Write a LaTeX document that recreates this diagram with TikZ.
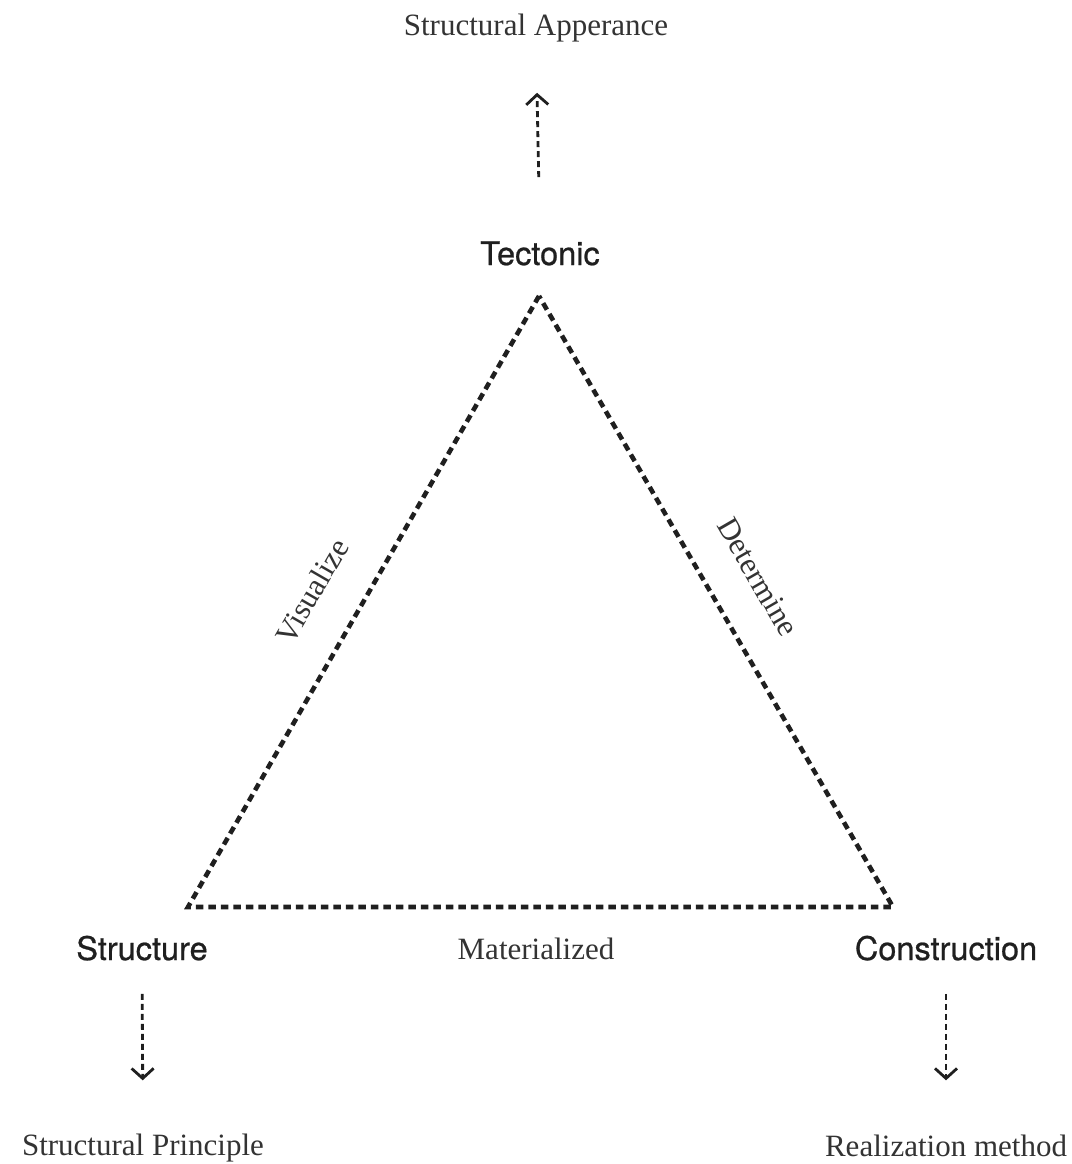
\documentclass[tikz,border=0pt]{standalone}
\usepackage{fontspec}
\setmainfont{Liberation Serif}
\newfontfamily\headfont[FakeBold=0.7]{TeX Gyre Heros}
\usetikzlibrary{arrows.meta}

\tikzset{
  corner/.style={font=\headfont\fontsize{32.5}{38}\selectfont, inner sep=0pt, anchor=base, text=black!88},
  note/.style={font=\fontsize{31}{36}\selectfont, inner sep=0pt, text=black!80},
  side/.style={line width=4.6pt, dash pattern=on 7.5pt off 5pt, miter limit=10, black!88},
  link/.style={line width=2.8pt, dash pattern=on 6pt off 4pt, black!88,
    -{Straight Barb[length=10pt, width=22pt, line width=2.8pt]}}
}

\begin{document}
\begin{tikzpicture}[x=1pt,y=-1pt]
\useasboundingbox (0,0) rectangle (1071,1164);

% corners of the triangle
\coordinate (top) at (539,296);
\coordinate (left) at (188,907);
\coordinate (right) at (893,907);

\draw[side] (top) -- (left) -- (right) -- cycle;

\node[corner] (tectonic) at (540,265) {Tectonic};
\node[corner] (structure) at (142,960) {Structure};
\node[corner] (construction) at (946,960) {Construction};

\node[note, anchor=base] (appear) at (536,36) {Structural Apperance};
\node[note, anchor=base] (principle) at (143,1155) {Structural Principle};
\node[note, anchor=base] (method) at (946,1156) {Realization method};

% edge labels
\node[note, rotate=60] (visualize) at (312,591) {Visualize};
\node[note, rotate=-60] (determine) at (758,577) {Determine};
\node[note, anchor=base] (materialized) at (536,959) {Materialized};

\draw[link, shorten <=64pt, shorten >=50pt] (tectonic.north) -- (appear.south);
\draw[link, shorten <=33pt, shorten >=53pt] (structure.south) -- (principle.north);
\draw[link, shorten <=33pt, shorten >=54pt] (construction.south) -- (method.north);

\end{tikzpicture}
\end{document}
